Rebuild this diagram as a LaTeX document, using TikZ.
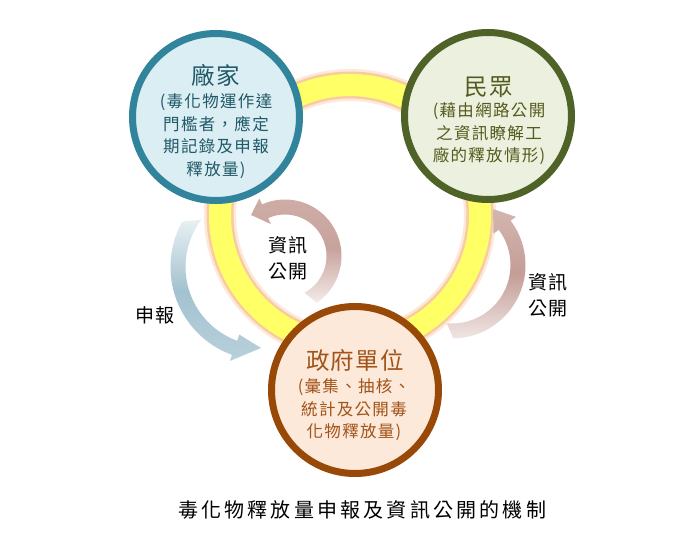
\documentclass[tikz,border=0pt]{standalone}
\usepackage{fontspec}
\newfontfamily\cjk{Noto Sans CJK TC}
\definecolor{ringY}{HTML}{FFFF66}
\definecolor{ringG}{HTML}{F9CBA4}
\definecolor{ringG2}{HTML}{FDE9D8}
\definecolor{aFill}{HTML}{DAEEF3}
\definecolor{aLine}{HTML}{31849B}
\definecolor{aText}{HTML}{215968}
\definecolor{bFill}{HTML}{EBF1DE}
\definecolor{bLine}{HTML}{4F6228}
\definecolor{bText}{HTML}{565A1E}
\definecolor{cFill}{HTML}{FDE9D9}
\definecolor{cLine}{HTML}{984807}
\definecolor{cText}{HTML}{A0531A}
\definecolor{blTop}{HTML}{E8F0F3}
\definecolor{blMid}{HTML}{A3C2CF}
\definecolor{blBot}{HTML}{B8D1DB}
\definecolor{rdTop}{HTML}{CFAEA8}
\definecolor{rdMid}{HTML}{C8A29C}
\definecolor{rdBot}{HTML}{F3EBE9}
\definecolor{rdTopB}{HTML}{D3B6B0}
\definecolor{rdMidB}{HTML}{C49D96}
\definecolor{rdBotB}{HTML}{F0E6E4}
\begin{document}
\begin{tikzpicture}[x=1pt,y=-1pt,
  bigc/.style={circle, minimum size=167pt, line width=7pt, inner sep=0pt},
  ttl/.style={inner sep=0pt, font=\cjk\fontsize{23.5}{26}\selectfont\addfontfeatures{LetterSpace=5}},
  bodytxt/.style={inner sep=0pt, align=center, font=\cjk\fontsize{16.5}{22.5}\selectfont\addfontfeatures{LetterSpace=8}},
  lbl/.style={inner sep=0pt, align=center, text=black, font=\cjk\fontsize{19}{25.5}\selectfont\addfontfeatures{LetterSpace=8}},
  captxt/.style={inner sep=0pt, text=black, font=\cjk\fontsize{20}{22}\selectfont\addfontfeatures{LetterSpace=16}}
]
\useasboundingbox[fill=white] (0,0) rectangle (699,551);
% yellow ring
\coordinate (ringc) at (350,215);
\draw[ringG2, line width=32pt] (ringc) circle[radius=130];
\draw[ringG, line width=27pt] (ringc) circle[radius=130];
\draw[ringY, line width=22pt] (ringc) circle[radius=130];
% arrow: report (left, blue)
\shade[top color=blTop, bottom color=blBot, middle color=blMid]
  ([shift={(264,267)}]209:93.5) arc[start angle=209, end angle=110, radius=93.5]
  -- ([shift={(264,267)}]110:100) -- (261,348) -- ([shift={(264,267)}]110:72)
  -- ([shift={(264,267)}]110:78.5) arc[start angle=110, end angle=217, radius=78.5] -- cycle;
% arrow: info inner
\shade[top color=rdTop, bottom color=rdBot, middle color=rdMid]
  ([shift={(285,256)}]56:56.5) arc[start angle=56, end angle=-114, radius=56.5]
  -- ([shift={(285,256)}]-114:63) -- (251,215) -- ([shift={(285,256)}]-114:35)
  -- ([shift={(285,256)}]-114:41.5) arc[start angle=-114, end angle=62, radius=41.5] -- cycle;
% arrow: info right
\shade[top color=rdTopB, bottom color=rdBotB, middle color=rdMidB]
  ([shift={(452,265)}]89:73.5) arc[start angle=89, end angle=-37, radius=73.5]
  -- ([shift={(452,265)}]-37:80) -- (493,209) -- ([shift={(452,265)}]-37:52)
  -- ([shift={(452,265)}]-37:58.5) arc[start angle=-37, end angle=95, radius=58.5] -- cycle;
% circles
\node[bigc, fill=aFill, draw=aLine] (factory) at (216,117) {};
\node[bigc, fill=bFill, draw=bLine] (public) at (488,116) {};
\node[bigc, fill=cFill, draw=cLine] (gov) at (355,390) {};
% circle texts
\node[ttl, text=aText] (factoryT) at (216,75) {廠家};
\node[bodytxt, text=aText] (factoryB) at (216,136) {(毒化物運作達\\門檻者，應定\\期記錄及申報\\釋放量)};
\node[ttl, text=bText] (publicT) at (489,87) {民眾};
\node[bodytxt, text=bText] (publicB) at (489,134) {(藉由網路公開\\之資訊瞭解工\\廠的釋放情形)};
\node[ttl, text=cText] (govT) at (355,361) {政府單位};
\node[bodytxt, text=cText] (govB) at (354,410) {(彙集、抽核、\\統計及公開毒\\化物釋放量)};
% labels
\node[lbl] (lblReport) at (155,315) {申報};
\node[lbl] (lblInfoA) at (288,258) {資訊\\公開};
\node[lbl] (lblInfoB) at (548,295) {資訊\\公開};
\node[captxt] (caption) at (362,510) {毒化物釋放量申報及資訊公開的機制};
\end{tikzpicture}
\end{document}
